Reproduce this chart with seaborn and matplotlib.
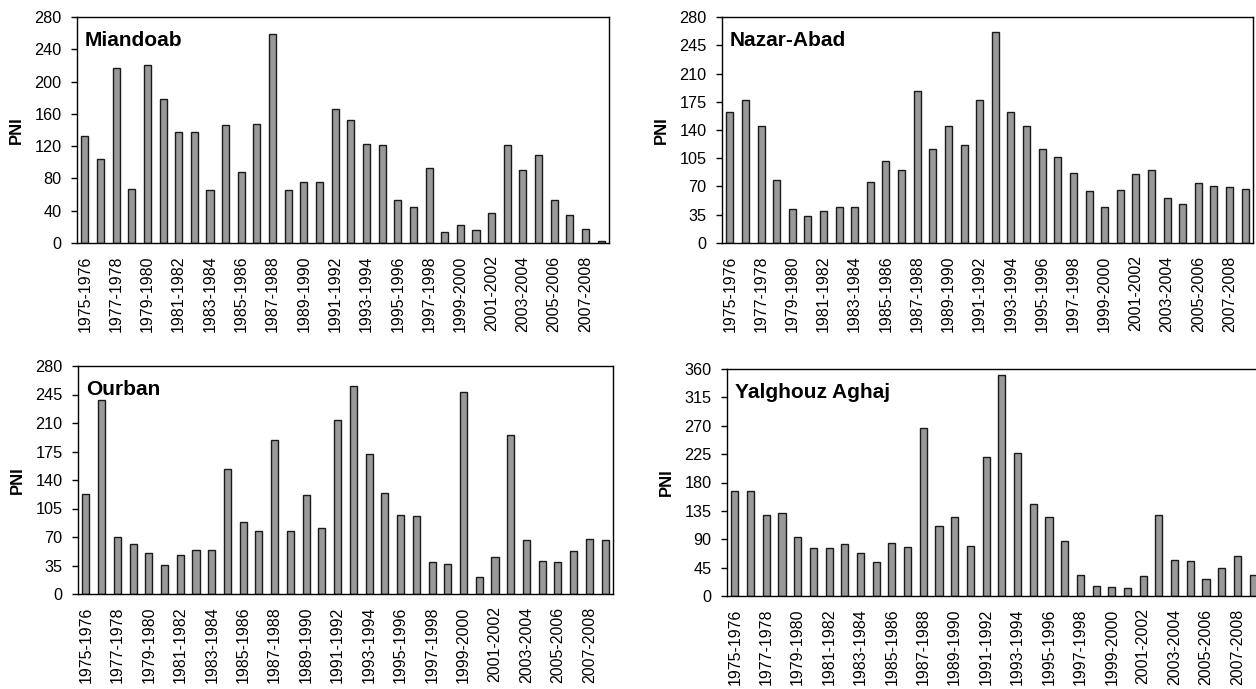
import numpy as np
import pandas as pd
import matplotlib
matplotlib.use("Agg")
import matplotlib.pyplot as plt
import seaborn as sns

sns.set_theme(style="white")
plt.rcParams["font.family"] = ["Liberation Sans", "DejaVu Sans"]
plt.rcParams["text.color"] = "black"
plt.rcParams["axes.labelcolor"] = "black"
plt.rcParams["xtick.color"] = "black"
plt.rcParams["ytick.color"] = "black"

# Hydrological years 1975-1976 ... 2008-2009
seasons = [f"{y}-{y + 1}" for y in range(1975, 2009)]

miandoab = [132, 104, 217, 67, 220, 178, 138, 138, 66, 146, 88, 148, 259, 66, 75, 75,
            166, 153, 123, 121, 53, 45, 93, 14, 22, 16, 37, 122, 90, 109, 53, 35, 17, 3]
nazar_abad = [162, 177, 145, 78, 42, 34, 40, 45, 45, 76, 102, 90, 188, 117, 145, 122,
              177, 261, 162, 145, 116, 106, 87, 64, 45, 66, 86, 90, 56, 48, 74, 71, 69, 67]
ourban = [123, 238, 70, 61, 50, 36, 48, 54, 54, 154, 89, 77, 189, 77, 122, 81,
          214, 255, 172, 124, 97, 96, 39, 37, 248, 21, 46, 195, 66, 40, 39, 53, 67, 66]
yalghouz = [166, 166, 129, 131, 94, 76, 76, 82, 68, 54, 84, 78, 266, 111, 125, 80,
            221, 351, 227, 146, 125, 88, 33, 16, 14, 12, 31, 129, 57, 55, 27, 45, 63, 33]

stations = ["Miandoab", "Nazar-Abad", "Ourban", "Yalghouz Aghaj"]
series = [miandoab, nazar_abad, ourban, yalghouz]
y_max = [280, 280, 280, 360]
y_step = [40, 35, 35, 45]

W, H = 1256, 689
# panel frames in pixels: left, top, right, bottom
frames = [(77, 17, 609, 243), (722, 17, 1253, 243),
          (78, 366, 613, 594), (727, 369, 1261, 596)]

fig = plt.figure(figsize=(W / 100, H / 100), dpi=100)

for name, vals, ym, ys, (l, t, r, b) in zip(stations, series, y_max, y_step, frames):
    ax = fig.add_axes([l / W, (H - b) / H, (r - l) / W, (b - t) / H])
    df = pd.DataFrame({"season": seasons, "PNI": vals})
    sns.barplot(data=df, x="season", y="PNI", ax=ax, color="#999999",
                saturation=1, width=0.45, edgecolor="#1a1a1a", linewidth=1.0)
    n = len(seasons)
    ax.set_xlim(-0.5, n - 0.5)
    ax.set_ylim(0, ym)
    ax.set_yticks(np.arange(0, ym + 1, ys))
    ax.set_xticks(range(0, n, 2))
    ax.set_xticklabels(seasons[::2], rotation=90)
    ax.set_xticks(np.arange(-0.5, n, 1.0), minor=True)
    ax.tick_params(axis="x", which="major", length=0, pad=9, labelsize=11.5, colors="black")
    ax.tick_params(axis="x", which="minor", length=4, width=1, color="black", direction="out")
    ax.tick_params(axis="y", which="major", length=4, width=1, color="black",
                   direction="out", labelsize=11.7, pad=7, left=True, labelcolor="black")
    ax.set_xlabel("")
    ax.set_ylabel("PNI", fontsize=12, fontweight="bold", color="black")
    ax.yaxis.set_label_coords(-53 / (r - l), 0.5)
    for s in ax.spines.values():
        s.set_visible(True)
        s.set_color("black")
        s.set_linewidth(1.0)
    ax.text(0.015, 0.873, name, transform=ax.transAxes, fontsize=15,
            fontweight="bold", ha="left", va="baseline", color="black")

fig.savefig("out.png", dpi=100)
